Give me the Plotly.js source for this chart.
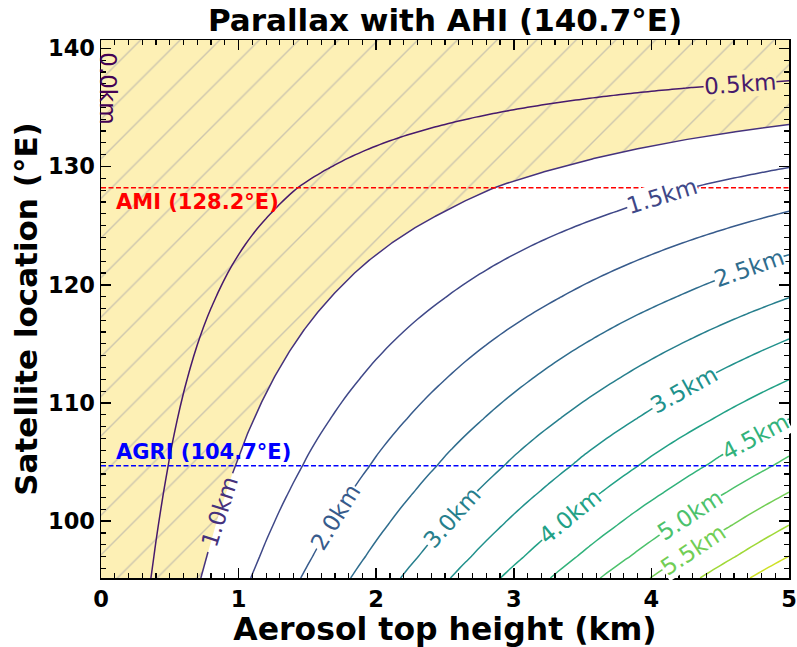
<!DOCTYPE html>
<html><head><meta charset="utf-8">
<script src="https://cdn.plot.ly/plotly-3.0.1.min.js"></script>
<style>html,body{margin:0;padding:0;background:#fff}</style>
</head><body><div id="chart" style="width:797px;height:647px"></div>
<script>
// ---------------- data ----------------
const ahiLon = 140.7;
// satellite longitude (°E) and the parallax (km) per km of aerosol height relative to AHI
const satLocations  = [95.2, 97.04, 99.66, 102.45, 104.7, 105.5, 108.65, 111.97, 115.41, 118.9, 122.55, 126.22, 128.2, 129.92, 133.56, 136.66, 140.7];
const parallaxPerKm = [1.378, 1.30, 1.20, 1.10, 1.024, 1.00, 0.90, 0.80, 0.70, 0.60, 0.50, 0.40, 0.35, 0.30, 0.20, 0.117, 0.0];
// aerosol top height grid (km)
const heightsKm = Array.from({length: 101}, (_, i) => (i * 5) / 100);
// contour levels (km)
const contourLevels = [0.5, 1.0, 1.5, 2.0, 2.5, 3.0, 3.5, 4.0, 4.5, 5.0, 5.5, 6.0, 6.5];
const levelColorMax = 7.0;
const shadeBelowKm = 1.0;
// inline contour labels: level and approximate position
const labelLevels = [0.0, 0.5, 1.0, 1.5, 2.0, 2.5, 3.0, 3.5, 4.0, 4.5, 5.0, 5.5];
const labelXs = [0.045, 4.64, 0.865, 4.077, 1.70, 4.72, 2.50, 4.24, 3.41, 4.75, 4.29, 4.30];
const labelYs = [136.6, 137.06, 100.76, 127.42, 100.4, 121.14, 100.78, 110.95, 100.42, 107.2, 100.34, 97.6];
// other satellites
const satNames = ['AMI', 'AGRI'];
const satLons = [128.2, 104.7];
const satColors = ['#ff0000', '#0000ff'];

// ---------------- geometry / style ----------------
const W = 797, H = 647;
const M = {l: 101, r: 8, t: 40, b: 69};
const xRange = [0, 5];
const yRange = [95.2, 140.7];
const plotW = W - M.l - M.r, plotH = H - M.t - M.b;
const FONT = 'DejaVu Sans';
const shadeColor = '#fdf0b5';
const hatchColor = '#cdc6ae';

function toPx(x, y) {
  return [M.l + (x - xRange[0]) / (xRange[1] - xRange[0]) * plotW,
          M.t + (yRange[1] - y) / (yRange[1] - yRange[0]) * plotH];
}
const viridisStops = ['#440154','#482475','#414487','#355f8d','#2a788e','#21918c','#22a884','#44bf70','#7ad151','#bddf26','#fde725'];
function hex2rgb(h) { return [1,3,5].map(i => parseInt(h.substr(i, 2), 16)); }
function viridis(t) {
  t = Math.max(0, Math.min(1, t));
  const s = t * 10, i = Math.min(9, Math.floor(s)), f = s - i;
  const a = hex2rgb(viridisStops[i]), b = hex2rgb(viridisStops[i + 1]);
  const c = a.map((v, k) => Math.round(v + f * (b[k] - v)));
  return 'rgb(' + c.join(',') + ')';
}

// z grid: parallax (km) = height * parallax per km
const z = satLocations.map((_, j) => heightsKm.map(h => h * parallaxPerKm[j]));

// crossing points of level c on the grid (same as marching-squares edge crossings)
function contourPath(c) {
  const pts = [];
  const xmax = heightsKm[heightsKm.length - 1];
  satLocations.forEach((y, j) => {
    const g = parallaxPerKm[j];
    if (g > 0) { const x = c / g; if (x <= xmax + 1e-9 && x >= 0) pts.push([x, y]); }
  });
  heightsKm.forEach(h => {
    if (h <= 0) return;
    const target = c / h;
    for (let j = 0; j < satLocations.length - 1; j++) {
      const g0 = parallaxPerKm[j], g1 = parallaxPerKm[j + 1];
      if (target <= g0 && target > g1) {
        const t = (target - g0) / (g1 - g0);
        pts.push([h, satLocations[j] + t * (satLocations[j + 1] - satLocations[j])]);
        break;
      }
    }
  });
  pts.sort((a, b) => a[1] - b[1] || a[0] - b[0]);
  const out = [];
  pts.forEach(p => {
    const q = out[out.length - 1];
    if (!q || Math.abs(q[0] - p[0]) > 1e-6 || Math.abs(q[1] - p[1]) > 1e-6) out.push(p);
  });
  return out;
}

function nearestOnPath(pts, px, py) {
  let best = null;
  for (let k = 0; k < pts.length - 1; k++) {
    const a = toPx(pts[k][0], pts[k][1]), b = toPx(pts[k + 1][0], pts[k + 1][1]);
    const dx = b[0] - a[0], dy = b[1] - a[1];
    const L2 = dx * dx + dy * dy || 1e-9;
    let t = ((px - a[0]) * dx + (py - a[1]) * dy) / L2;
    t = Math.max(0, Math.min(1, t));
    const qx = a[0] + t * dx, qy = a[1] + t * dy;
    const d = Math.hypot(px - qx, py - qy);
    if (!best || d < best.d) {
      best = {d, t, k, ang: Math.atan2(dy, dx) * 180 / Math.PI,
              x: pts[k][0] + t * (pts[k + 1][0] - pts[k][0]),
              y: pts[k][1] + t * (pts[k + 1][1] - pts[k][1]), px: qx, py: qy};
    }
  }
  return best;
}

function gappedLine(pts, cx, cy, radius) {
  const xs = [], ys = [];
  let prevIn = null;
  const pushPt = (x, y) => {
    const p = toPx(x, y);
    const inside = Math.hypot(p[0] - cx, p[1] - cy) < radius;
    if (inside) { if (prevIn === false) { xs.push(null); ys.push(null); } }
    else { xs.push(x); ys.push(y); }
    prevIn = inside;
  };
  for (let k = 0; k < pts.length - 1; k++) {
    const a = pts[k], b = pts[k + 1];
    const pa = toPx(a[0], a[1]), pb = toPx(b[0], b[1]);
    const n = Math.max(1, Math.ceil(Math.hypot(pb[0] - pa[0], pb[1] - pa[1]) / 1.5));
    for (let s = 0; s < n; s++) {
      const t = s / n;
      pushPt(a[0] + t * (b[0] - a[0]), a[1] + t * (b[1] - a[1]));
    }
  }
  const last = pts[pts.length - 1];
  pushPt(last[0], last[1]);
  return {xs, ys};
}

const traces = [];

// hatched shaded region where parallax < 1 km
const boundary = contourPath(shadeBelowKm);
const fillX = boundary.map(p => p[0]).concat([xRange[1], xRange[1]]);
const fillY = boundary.map(p => p[1]).concat([boundary[boundary.length - 1][1], yRange[1]]);
traces.push({
  type: 'scatter', mode: 'lines', x: fillX, y: fillY, fill: 'tozerox',
  line: {width: 0, color: 'rgba(0,0,0,0)'}, fillcolor: shadeColor,
  fillpattern: {shape: '/', size: 28, solidity: 0.05, fgcolor: hatchColor, bgcolor: shadeColor, fillmode: 'replace'},
  hoverinfo: 'skip', showlegend: false
});

// labels
const annotations = [];
let shadeLabel = null;
labelLevels.forEach((c, i) => {
  const col = viridis(c / levelColorMax);
  let x = labelXs[i], y = labelYs[i], ang = 90;
  if (c > 0) {
    const p0 = toPx(labelXs[i], labelYs[i]);
    const nb = nearestOnPath(contourPath(c), p0[0], p0[1]);
    x = nb.x; y = nb.y; ang = nb.ang;
    if (ang > 90) ang -= 180;
    if (ang <= -90) ang += 180;
  }
  let bg;
  const gHere = (() => { // parallax per km at y (linear between samples)
    for (let j = 0; j < satLocations.length - 1; j++)
      if (y >= satLocations[j] && y <= satLocations[j + 1]) {
        const t = (y - satLocations[j]) / (satLocations[j + 1] - satLocations[j]);
        return parallaxPerKm[j] + t * (parallaxPerKm[j + 1] - parallaxPerKm[j]);
      }
    return 0;
  })();
  if (c === shadeBelowKm) { bg = 'rgba(0,0,0,0)'; shadeLabel = toPx(x, y); }
  else if (c === 0) bg = 'rgba(0,0,0,0)';
  else if (x * gHere < shadeBelowKm) bg = shadeColor;
  else bg = '#ffffff';
  annotations.push({
    x, y, xref: 'x', yref: 'y', text: c.toFixed(1) + 'km', showarrow: false,
    textangle: ang, xanchor: 'center', yanchor: 'middle', borderpad: 0, bgcolor: bg,
    font: {family: FONT, size: 23, color: col}
  });
});

// the 1.0 km boundary line (with a gap for its label)
const gl = gappedLine(boundary, shadeLabel[0], shadeLabel[1], 41);
traces.push({
  type: 'scatter', mode: 'lines', x: gl.xs, y: gl.ys, connectgaps: false,
  line: {color: viridis(shadeBelowKm / levelColorMax), width: 1.5},
  hoverinfo: 'skip', showlegend: false
});

// other contour lines (drawn on an overlaying subplot so they sit above the shading)
contourLevels.forEach(c => {
  if (c === shadeBelowKm) return;
  const col = viridis(c / levelColorMax);
  traces.push({
    type: 'contour', x: heightsKm, y: satLocations, z: z, xaxis: 'x2', yaxis: 'y2',
    autocontour: false, contours: {start: c, end: c, size: 0.5, coloring: 'lines', showlabels: false},
    colorscale: [[0, col], [1, col]], showscale: false,
    line: {width: 1.5, smoothing: 0.8}, hoverinfo: 'skip'
  });
});

// other satellites
satNames.forEach((name, i) => {
  traces.push({
    type: 'scatter', mode: 'lines', x: xRange, y: [satLons[i], satLons[i]], xaxis: 'x2', yaxis: 'y2',
    line: {color: satColors[i], width: 1.5, dash: '5px,2.5px'}, hoverinfo: 'skip', showlegend: false
  });
  const above = satLons[i] < 110;
  annotations.push({
    x: 0.1, y: satLons[i], xref: 'x', yref: 'y', xanchor: 'left', yanchor: above ? 'bottom' : 'top',
    yshift: above ? 1 : -1, showarrow: false, borderpad: 0,
    text: name + ' (' + satLons[i].toFixed(1) + '°E)',
    font: {family: FONT, size: 21, weight: 'bold', color: satColors[i]}
  });
});

const axisCommon = {
  showgrid: false, zeroline: false, showline: true, linecolor: '#000', linewidth: 1.5,
  ticks: 'inside', ticklen: 10, tickwidth: 1.5, tickcolor: '#000', mirror: 'allticks',
  tickfont: {family: FONT, size: 22.5, weight: 'bold', color: '#000'}
};

const layout = {
  width: W, height: H, margin: M, paper_bgcolor: '#fff', plot_bgcolor: '#fff', showlegend: false,
  title: {text: 'Parallax with AHI (' + ahiLon.toFixed(1) + '°E)', x: 0.5, xref: 'paper', xanchor: 'center',
          y: 1 - 20 / H, yref: 'container', yanchor: 'middle',
          font: {family: FONT, size: 31, weight: 'bold', color: '#000'}},
  xaxis: Object.assign({}, axisCommon, {
    range: xRange, tickmode: 'linear', tick0: 0, dtick: 1,
    minor: {dtick: 0.1, ticks: 'inside', ticklen: 5, tickwidth: 1.2, tickcolor: '#000', showgrid: false},
    title: {text: 'Aerosol top height (km)', standoff: 7, font: {family: FONT, size: 31.5, weight: 'bold', color: '#000'}}
  }),
  yaxis: Object.assign({}, axisCommon, {
    range: yRange, tickmode: 'linear', tick0: 0, dtick: 10,
    minor: {dtick: 1, ticks: 'inside', ticklen: 5, tickwidth: 1.2, tickcolor: '#000', showgrid: false},
    title: {text: 'Satellite location (°E)', standoff: 1, font: {family: FONT, size: 31, weight: 'bold', color: '#000'}}
  }),
  xaxis2: {overlaying: 'x', range: xRange, visible: false, fixedrange: true},
  yaxis2: {overlaying: 'y', range: yRange, visible: false, fixedrange: true},
  annotations: annotations
};

Plotly.newPlot('chart', traces, layout, {displayModeBar: false, staticPlot: true});
</script>
</body></html>
